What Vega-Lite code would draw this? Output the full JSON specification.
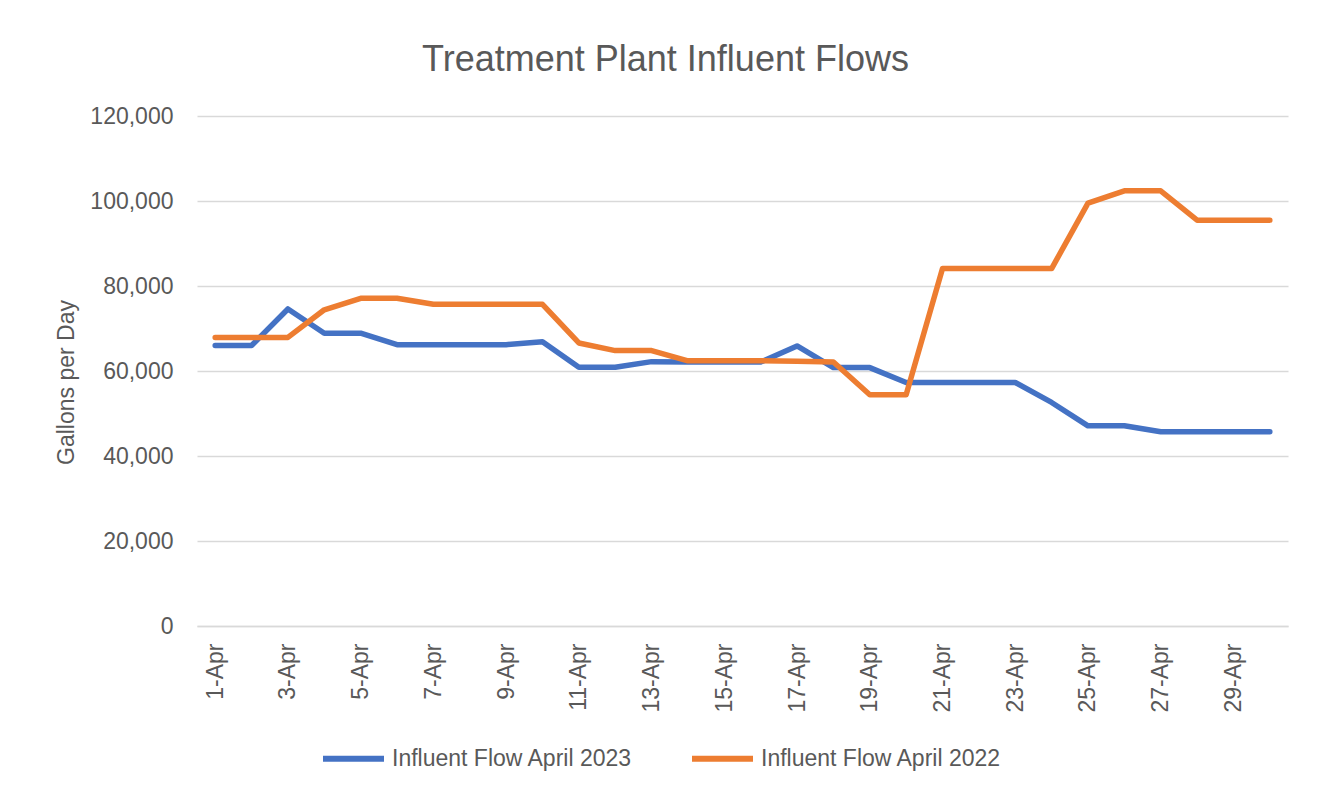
{
  "$schema": "https://vega.github.io/schema/vega-lite/v6.json",
  "width": 1091,
  "height": 510,
  "autosize": {"type": "none"},
  "padding": {"left": 197, "top": 116, "right": 29, "bottom": 164},
  "background": "white",
  "title": {
    "text": "Treatment Plant Influent Flows",
    "font": "Liberation Sans",
    "fontSize": 36,
    "fontWeight": "normal",
    "color": "#595959",
    "anchor": "middle",
    "baseline": "alphabetic",
    "offset": 46,
    "dx": -77,
    "dy": 48
  },
  "data": {
    "values": [
      {"day": "1-Apr", "a": 66000, "b": 67900},
      {"day": "2-Apr", "a": 66000, "b": 67900},
      {"day": "3-Apr", "a": 74600, "b": 67900},
      {"day": "4-Apr", "a": 68900, "b": 74400},
      {"day": "5-Apr", "a": 68900, "b": 77100},
      {"day": "6-Apr", "a": 66200, "b": 77100},
      {"day": "7-Apr", "a": 66200, "b": 75700},
      {"day": "8-Apr", "a": 66200, "b": 75700},
      {"day": "9-Apr", "a": 66200, "b": 75700},
      {"day": "10-Apr", "a": 66900, "b": 75700},
      {"day": "11-Apr", "a": 60900, "b": 66600},
      {"day": "12-Apr", "a": 60900, "b": 64800},
      {"day": "13-Apr", "a": 62200, "b": 64800},
      {"day": "14-Apr", "a": 62100, "b": 62400},
      {"day": "15-Apr", "a": 62100, "b": 62400},
      {"day": "16-Apr", "a": 62100, "b": 62400},
      {"day": "17-Apr", "a": 65900, "b": 62300},
      {"day": "18-Apr", "a": 60800, "b": 62100},
      {"day": "19-Apr", "a": 60800, "b": 54400},
      {"day": "20-Apr", "a": 57300, "b": 54400},
      {"day": "21-Apr", "a": 57300, "b": 84100},
      {"day": "22-Apr", "a": 57300, "b": 84100},
      {"day": "23-Apr", "a": 57300, "b": 84100},
      {"day": "24-Apr", "a": 52600, "b": 84100},
      {"day": "25-Apr", "a": 47100, "b": 99500},
      {"day": "26-Apr", "a": 47100, "b": 102400},
      {"day": "27-Apr", "a": 45700, "b": 102400},
      {"day": "28-Apr", "a": 45700, "b": 95500},
      {"day": "29-Apr", "a": 45700, "b": 95500},
      {"day": "30-Apr", "a": 45700, "b": 95500}
    ]
  },
  "transform": [
    {"fold": ["a", "b"], "as": ["key", "flow"]},
    {"lookup": "key", "from": {"data": {"values": [
      {"key": "a", "series": "Influent Flow April 2023"},
      {"key": "b", "series": "Influent Flow April 2022"}
    ]}, "key": "key", "fields": ["series"]}}
  ],
  "mark": {"type": "line", "strokeWidth": 5.5, "strokeCap": "round", "strokeJoin": "round"},
  "encoding": {
    "x": {
      "field": "day",
      "type": "ordinal",
      "sort": null,
      "scale": {"type": "point", "padding": 0.5},
      "axis": {
        "title": null,
        "values": ["1-Apr","3-Apr","5-Apr","7-Apr","9-Apr","11-Apr","13-Apr","15-Apr","17-Apr","19-Apr","21-Apr","23-Apr","25-Apr","27-Apr","29-Apr"],
        "labelAngle": 270,
        "labelFont": "Liberation Sans",
        "labelFontSize": 23,
        "labelColor": "#595959",
        "labelPadding": 17,
        "ticks": false,
        "grid": false,
        "domainColor": "#D9D9D9",
        "domainWidth": 1.5
      }
    },
    "y": {
      "field": "flow",
      "type": "quantitative",
      "scale": {"domain": [0, 120000], "nice": false},
      "axis": {
        "title": "Gallons per Day",
        "titleFont": "Liberation Sans",
        "titleFontSize": 23,
        "titleFontWeight": "normal",
        "titleColor": "#595959",
        "titleX": -131,
        "titleY": 266,
        "titleAngle": 270,
        "titleBaseline": "middle",
        "values": [0, 20000, 40000, 60000, 80000, 100000, 120000],
        "format": ",.0f",
        "labelFont": "Liberation Sans",
        "labelFontSize": 23,
        "labelColor": "#595959",
        "labelPadding": 24,
        "ticks": false,
        "domain": false,
        "gridColor": "#D9D9D9",
        "gridWidth": 1.5
      }
    },
    "color": {
      "field": "series",
      "type": "nominal",
      "scale": {
        "domain": ["Influent Flow April 2023", "Influent Flow April 2022"],
        "range": ["#4472C4", "#ED7D31"]
      },
      "legend": {
        "title": null,
        "orient": "none",
        "direction": "horizontal",
        "legendX": 123,
        "legendY": 609,
        "symbolType": "stroke",
        "symbolSize": 3721,
        "symbolStrokeWidth": 6,
        "labelFont": "Liberation Sans",
        "labelFontSize": 23,
        "labelColor": "#595959",
        "labelOffset": 5,
        "labelLimit": 500,
        "columnPadding": 47
      }
    }
  },
  "config": {
    "view": {"stroke": null}
  }
}
